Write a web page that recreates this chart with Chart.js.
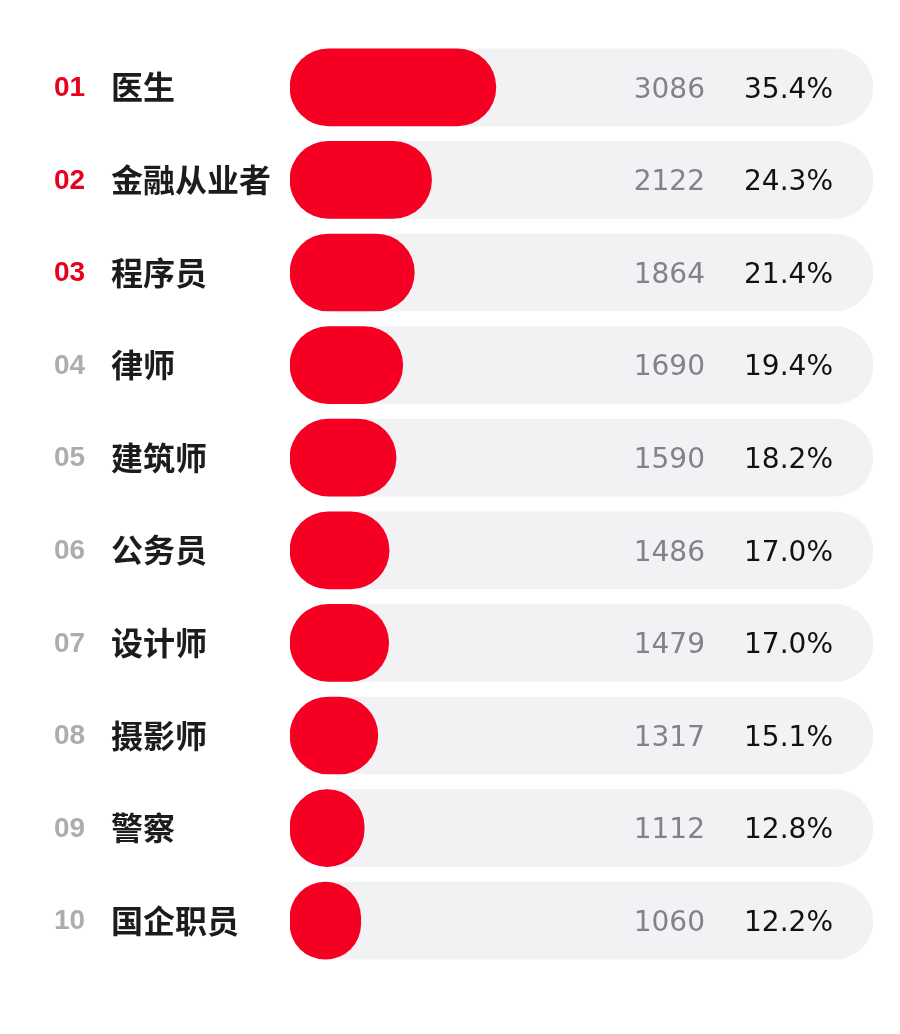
<!DOCTYPE html>
<html>
<head>
<meta charset="utf-8">
<script src="https://cdn.jsdelivr.net/npm/chart.js@4.4.0/dist/chart.umd.min.js"></script>
<style>
  html, body { margin: 0; padding: 0; background: #fff; }
  #wrap { width: 900px; height: 1034px; position: relative; }
</style>
</head>
<body>
<div id="wrap"><canvas id="chart"></canvas></div>
<script>
// Occupation ranking
const ranks = ['01', '02', '03', '04', '05', '06', '07', '08', '09', '10'];
const occupations = ['医生', '金融从业者', '程序员', '律师', '建筑师', '公务员', '设计师', '摄影师', '警察', '国企职员'];
const counts = [3086, 2122, 1864, 1690, 1590, 1486, 1479, 1317, 1112, 1060];
const shares = [35.4, 24.3, 21.4, 19.4, 18.2, 17.0, 17.0, 15.1, 12.8, 12.2];
const totalRespondents = 8740; // full-length track

const RED = '#f50022';
const TRACK = '#f2f1f4';

// Draws rank, name, count and share text on each row
const rowLabels = {
    id: 'rowLabels',
    afterDatasetsDraw(chart) {
        const ctx = chart.ctx;
        const y = chart.scales.y;
        ctx.save();
        ctx.textBaseline = 'middle';
        occupations.forEach((name, i) => {
            const cy = y.getPixelForValue(i);

            ctx.textAlign = 'left';
            ctx.font = 'bold 28px "Liberation Sans", Arial, sans-serif';
            ctx.fillStyle = i < 3 ? '#e8001c' : '#adadad';
            ctx.fillText(ranks[i], 54, cy + 1);

            ctx.font = 'bold 32px "Noto Sans CJK SC", sans-serif';
            ctx.fillStyle = '#1c1c1c';
            ctx.fillText(name, 111, cy);

            ctx.textAlign = 'right';
            ctx.font = '28px "DejaVu Sans", sans-serif';
            ctx.fillStyle = '#82828c';
            ctx.fillText(String(counts[i]), 705, cy + 3);

            ctx.font = '28px "DejaVu Sans", sans-serif';
            ctx.fillStyle = '#111111';
            ctx.fillText(shares[i].toFixed(1) + '%', 833, cy + 3);
        });
        ctx.restore();
    }
};

const chart = new Chart(document.getElementById('chart'), {
    type: 'bar',
    data: {
        labels: occupations,
        datasets: [
            {
                label: '人数',
                data: counts,
                backgroundColor: RED,
                borderRadius: 40,
                borderSkipped: false,
                barThickness: 77
            },
            {
                label: 'track',
                data: occupations.map(() => totalRespondents),
                backgroundColor: TRACK,
                borderRadius: 40,
                borderSkipped: false,
                barThickness: 77
            }
        ]
    },
    options: {
        indexAxis: 'y',
        responsive: true,
        maintainAspectRatio: false,
        animation: false,
        datasets: { bar: { grouped: false } },
        layout: { padding: { left: 290, right: 27, top: 41, bottom: 67 } },
        plugins: {
            legend: { display: false },
            tooltip: { enabled: false },
            title: { display: false }
        },
        scales: {
            x: { display: false, min: 0, max: totalRespondents },
            y: { display: false }
        }
    },
    plugins: [rowLabels]
});
</script>
</body>
</html>
